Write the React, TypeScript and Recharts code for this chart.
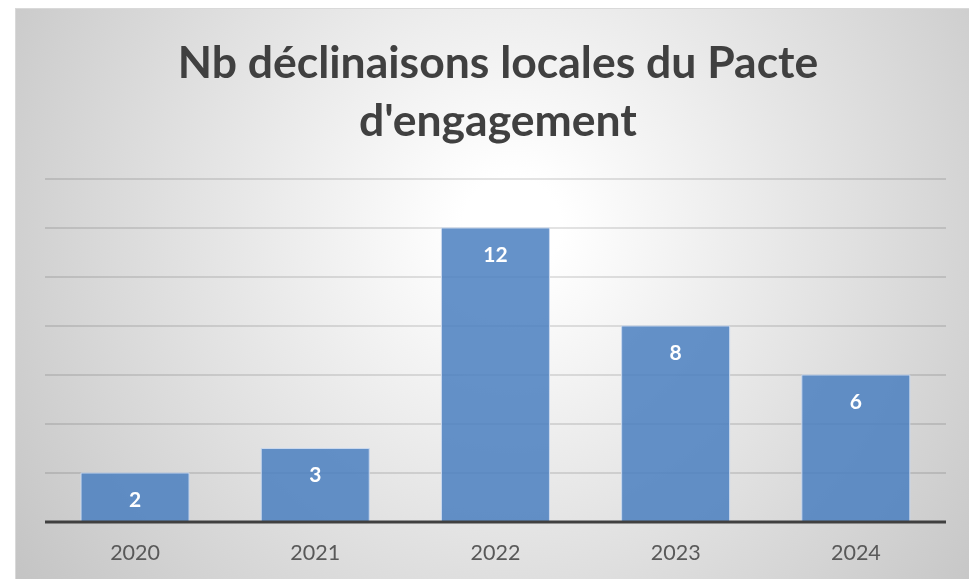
import React from 'react';
import { BarChart, Bar, XAxis, YAxis, CartesianGrid, LabelList } from 'recharts';

const years = ['2020', '2021', '2022', '2023', '2024'];
const counts = [2, 3, 12, 8, 6];
const yTicks = [0, 2, 4, 6, 8, 10, 12, 14];

const data = years.map((year, i) => ({ year, count: counts[i] }));

const W = 954;
const H = 571;

export default function App() {
  return (
    <div
      style={{
        position: 'fixed',
        left: 15,
        top: 8,
        width: W,
        height: H,
        borderTop: '1px solid #d9d9d9',
        borderLeft: '1px solid #d9d9d9',
        boxSizing: 'border-box',
        background:
          'radial-gradient(circle farthest-corner at 52% 38%, #ffffff 0%, #ffffff 8%, #c4c4c4 100%)',
        fontFamily: 'Lato, "Open Sans", sans-serif',
      }}
    >
      <div
        style={{
          position: 'absolute',
          left: 0,
          width: 964,
          top: 23,
          textAlign: 'center',
          fontSize: 44.5,
          fontWeight: 700,
          lineHeight: '58px',
          color: '#404040',
        }}
      >
        Nb déclinaisons locales du Pacte
        <br />
        d'engagement
      </div>
      <div style={{ position: 'absolute', left: -1, top: -1 }}>
        <BarChart
          width={W}
          height={H}
          data={data}
          margin={{ top: 171, right: 23, bottom: 27, left: 30 }}
          barCategoryGap="20%"
        >
          <CartesianGrid horizontal vertical={false} stroke="#000" strokeOpacity={0.22} />
          <YAxis hide domain={[0, 14]} ticks={yTicks} />
          <XAxis
            dataKey="year"
            axisLine={{ stroke: '#404040', strokeWidth: 3 }}
            tickLine={false}
            tick={{ fill: '#595959', fontSize: 21.5 }}
            tickMargin={17}
          />
          <Bar
            dataKey="count"
            fill="#4a7fc0"
            fillOpacity={0.85}
            stroke="#c9d8ee"
            strokeWidth={1}
            isAnimationActive={false}
          >
            <LabelList
              dataKey="count"
              position="insideTop"
              offset={19}
              fill="#ffffff"
              fontSize={21}
              fontWeight={700}
            />
          </Bar>
        </BarChart>
      </div>
    </div>
  );
}
